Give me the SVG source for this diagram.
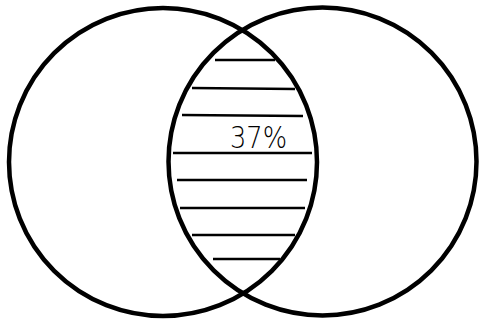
<svg xmlns="http://www.w3.org/2000/svg" width="479" height="322" viewBox="0 0 479 322">
<style>
.c{fill:none;stroke:#000;stroke-width:4.5}
.h{stroke:#000;stroke-width:2.4}
.t{font-family:"DejaVu Sans",sans-serif;font-weight:200;font-size:30px;fill:#000}
</style>
<rect width="479" height="322" fill="#fff"/>
<g id="left-circle"><circle class="c" cx="163" cy="162" r="154"/></g>
<g id="right-circle"><circle class="c" cx="322.5" cy="161.5" r="154"/></g>
<g id="hatch">
<line class="h" x1="215" y1="60" x2="275" y2="60"/>
<line class="h" x1="192" y1="88" x2="295" y2="89"/>
<line class="h" x1="182" y1="115" x2="303" y2="116"/>
<line class="h" x1="173" y1="153" x2="312" y2="153"/>
<line class="h" x1="177" y1="180" x2="307" y2="180"/>
<line class="h" x1="180" y1="208" x2="305" y2="208"/>
<line class="h" x1="192" y1="235" x2="295" y2="235"/>
<line class="h" x1="213" y1="259" x2="280" y2="259"/>
</g>
<g id="label"><text class="t" x="230" y="148" textLength="57" lengthAdjust="spacingAndGlyphs">37%</text></g>
</svg>
